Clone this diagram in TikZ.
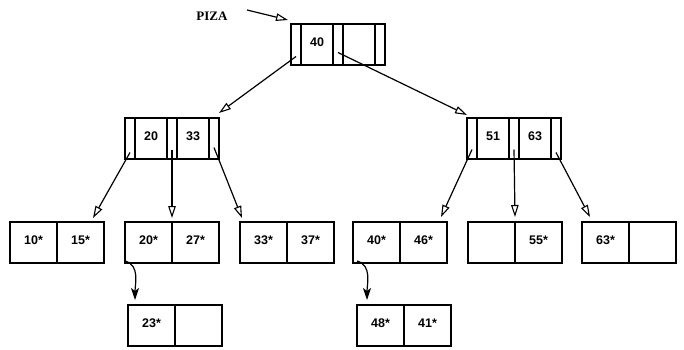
\documentclass[tikz,border=0pt]{standalone}
\usepackage{fontspec}
\setmainfont{Liberation Serif}
\setsansfont{Liberation Sans}
\usetikzlibrary{arrows.meta}

\begin{document}
\begin{tikzpicture}[x=1pt,y=-1pt,
	cell/.style={draw,line width=1.3pt,minimum height=41pt,inner sep=0pt,outer sep=0pt,text depth=4pt,font=\sffamily\bfseries\fontsize{12.5}{12.5}\selectfont},
	ptr/.style={cell,minimum width=10pt},
	key/.style={cell,minimum width=32pt},
	half/.style={cell,minimum width=47pt},
	tree/.style={line width=1.2pt,-{Triangle[open,length=12pt,width=7.5pt,line width=1.1pt]}},
	chain/.style={line width=1.2pt,-{Stealth[length=12pt,width=8pt,inset=3pt]}}]
			\useasboundingbox (0,0) rectangle (684,349);
			
			\node[font=\rmfamily\bfseries\fontsize{13}{13}\selectfont] (piza) at (212,16) {PIZA};
			
			\node[ptr,anchor=north west] (tp0) at (291,24) {};
			\node[key,anchor=west] (tk1) at (tp0.east) {40};
			\node[ptr,anchor=west] (tp1) at (tk1.east) {};
			\node[key,anchor=west] (tk2) at (tp1.east) {};
			\node[ptr,anchor=west] (tp2) at (tk2.east) {};
			
			\node[ptr,anchor=north west] (lp0) at (125,118) {};
			\node[key,anchor=west] (lk1) at (lp0.east) {20};
			\node[ptr,anchor=west] (lp1) at (lk1.east) {};
			\node[key,anchor=west] (lk2) at (lp1.east) {33};
			\node[ptr,anchor=west] (lp2) at (lk2.east) {};
			
			\node[ptr,anchor=north west] (rp0) at (467,118) {};
			\node[key,anchor=west] (rk1) at (rp0.east) {51};
			\node[ptr,anchor=west] (rp1) at (rk1.east) {};
			\node[key,anchor=west] (rk2) at (rp1.east) {63};
			\node[ptr,anchor=west] (rp2) at (rk2.east) {};
			
			\node[half,anchor=north west] (f1a) at (10,222) {10*};
			\node[half,anchor=west] (f1b) at (f1a.east) {15*};
			\node[half,anchor=north west] (f2a) at (125,222) {20*};
			\node[half,anchor=west] (f2b) at (f2a.east) {27*};
			\node[half,anchor=north west] (f3a) at (240,222) {33*};
			\node[half,anchor=west] (f3b) at (f3a.east) {37*};
			\node[half,anchor=north west] (f4a) at (353,222) {40*};
			\node[half,anchor=west] (f4b) at (f4a.east) {46*};
			\node[half,anchor=north west] (f5a) at (468,222) {};
			\node[half,anchor=west] (f5b) at (f5a.east) {55*};
			\node[half,anchor=north west] (f6a) at (582,222) {63*};
			\node[half,anchor=west] (f6b) at (f6a.east) {};
			
			\node[half,anchor=north west] (o1a) at (128,305) {23*};
			\node[half,anchor=west] (o1b) at (o1a.east) {};
			\node[half,anchor=north west] (o2a) at (357,305) {48*};
			\node[half,anchor=west] (o2b) at (o2a.east) {41*};
			
			\draw[tree] ([xshift=16pt,yshift=6pt]piza.east) -- ([xshift=-3pt,yshift=4pt]tp0.north west);
			\draw[tree] ([yshift=-12pt]tp0.center) -- ([yshift=5pt]lp2.north east);
			\draw[tree] ([yshift=-8pt]tp1.center) -- ([yshift=3pt]rp0.north west);
			
			\draw[tree] ([yshift=-14pt]lp0.center) -- ([xshift=-11pt,yshift=4pt]f1b.north east);
			\draw[tree] ([yshift=-11pt]lp1.center) -- ([yshift=4pt]f2a.north east);
			\draw[tree] ([yshift=-9pt]lp2.center) -- ([xshift=2pt,yshift=4pt]f3a.north west);
			
			\draw[tree] ([yshift=-11pt]rp0.center) -- ([xshift=-6pt,yshift=5pt]f4b.north east);
			\draw[tree] ([yshift=-11pt]rp1.center) -- ([yshift=5pt]f5a.north east);
			\draw[tree] ([yshift=-14pt]rp2.center) -- ([xshift=8pt,yshift=5pt]f6a.north west);
			
			\draw[chain] ([yshift=2pt]f2a.south west) to[out=-15,in=90] ([xshift=7pt,yshift=5pt]o1a.north west);
			\draw[chain] ([xshift=4pt,yshift=2pt]f4a.south west) to[out=-15,in=90] ([xshift=10pt,yshift=5pt]o2a.north west);
		\end{tikzpicture}
\end{document}
